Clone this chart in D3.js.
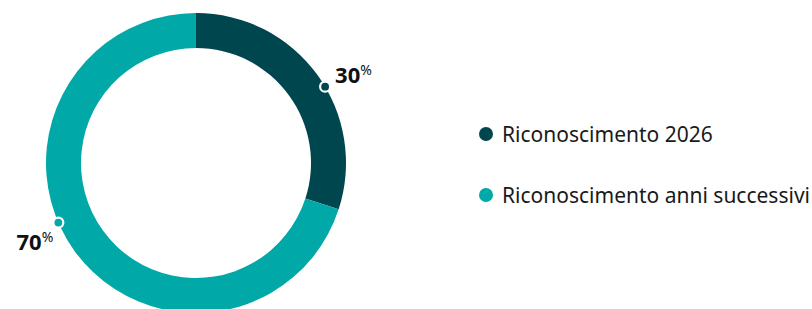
<!DOCTYPE html>
<html>
<head>
<meta charset="utf-8">
<script src="https://cdn.jsdelivr.net/npm/d3@7"></script>
<style>
  body { margin: 0; background: #fff; }
  text { font-family: "Noto Sans", sans-serif; }
</style>
</head>
<body>
<div class="diagram-canvas"></div>
<script>
let categories = ["Riconoscimento 2026", "Riconoscimento anni successivi"];
let values = [30, 70];
let labels = ["30", "70"];
let colors = ["#00464f", "#00a9a7"];

let width = 812,
  height = 309,
  cx = 196,
  cy = 163,
  outerR = 150,
  innerR = 115;

let svg = d3
  .select(".diagram-canvas")
  .append("svg")
  .attr("width", width)
  .attr("height", height);

let pie = d3.pie().sort(null).value((d) => d);
let arcs = pie(values);

let arc = d3.arc().innerRadius(innerR).outerRadius(outerR);

let g = svg.append("g").attr("transform", "translate(" + cx + "," + cy + ")");

g.selectAll("path")
  .data(arcs)
  .enter()
  .append("path")
  .attr("d", arc)
  .attr("fill", (d, i) => colors[i]);

// marker dots on the outer edge, a bit past the middle of each slice
let dotAngle = (d) => d.startAngle + 0.55 * (d.endAngle - d.startAngle);
let dotPos = (d) => [
  Math.sin(dotAngle(d)) * outerR,
  -Math.cos(dotAngle(d)) * outerR,
];

g.selectAll("circle.marker")
  .data(arcs)
  .enter()
  .append("circle")
  .attr("class", "marker")
  .attr("cx", (d) => dotPos(d)[0])
  .attr("cy", (d) => dotPos(d)[1])
  .attr("r", 5)
  .attr("fill", (d, i) => colors[i])
  .attr("stroke", "#fff")
  .attr("stroke-width", 2.2);

// percentage labels
let labelOffset = [
  [10, -4, "start"],
  [-5, 27, "end"],
];

let lbl = g
  .selectAll("text.pct")
  .data(arcs)
  .enter()
  .append("text")
  .attr("class", "pct")
  .attr("x", (d, i) => dotPos(d)[0] + labelOffset[i][0])
  .attr("y", (d, i) => dotPos(d)[1] + labelOffset[i][1])
  .attr("text-anchor", (d, i) => labelOffset[i][2])
  .attr("fill", "#111")
  .style("font-weight", "bold")
  .style("font-size", "22px");

lbl.append("tspan").text((d, i) => labels[i]);
lbl
  .append("tspan")
  .attr("dy", -8)
  .style("font-size", "14px")
  .style("font-weight", "normal")
  .text("%");

// legend
let legend = svg
  .selectAll("g.legend")
  .data(categories)
  .enter()
  .append("g")
  .attr("class", "legend")
  .attr("transform", (d, i) => "translate(486," + (134 + i * 61) + ")");

legend
  .append("circle")
  .attr("r", 7)
  .attr("fill", (d, i) => colors[i]);

legend
  .append("text")
  .attr("x", 16)
  .attr("y", 7.5)
  .attr("fill", "#1a1a1a")
  .style("font-size", "21px")
  .text((d) => d);
</script>
</body>
</html>
